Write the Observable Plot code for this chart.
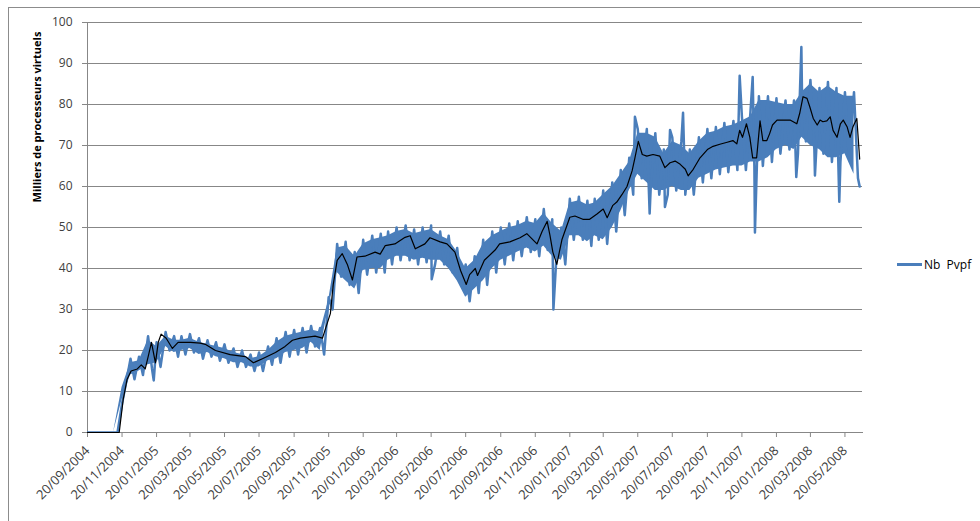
<!DOCTYPE html>
<html>
<head>
<meta charset="utf-8">
<script src="https://cdn.jsdelivr.net/npm/d3@7"></script>
<script src="https://cdn.jsdelivr.net/npm/@observablehq/plot@0.6"></script>
<style>
  body { margin: 0; background: #fff; }
  #wrap { position: relative; width: 980px; height: 521px; overflow: hidden; font-family: "Open Sans", sans-serif; background: #fff; }
  #frame { position: absolute; left: 8px; top: 7px; width: 1000px; height: 540px; border: 1px solid #8c8c8c; box-sizing: border-box; }
  #chart { position: absolute; left: 0; top: 0; }
  #ytitle { position: absolute; left: 36px; top: 117px; transform: translate(-50%, -50%) rotate(-90deg); font-weight: bold; font-size: 11px; white-space: nowrap; color: #000; }
  #legend { position: absolute; left: 897px; top: 256px; display: flex; align-items: center; font-size: 12px; color: #000; white-space: pre; }
  #legend .sw { width: 25px; height: 3px; background: #4a7ebb; margin-right: 2px; }
</style>
</head>
<body>
<div id="wrap">
  <div id="frame"></div>
  <div id="chart"></div>
  <div id="ytitle">Milliers de processeurs virtuels</div>
  <div id="legend"><span class="sw"></span><span>Nb  Pvpf</span></div>
</div>
<script>
// ---- Data (values in thousands) ----
// Blue series "Nb Pvpf": twice-monthly weekday highs and weekend lows
const sampleDates = [
  "2004-09-20","2004-10-05","2004-10-20","2004-11-05","2004-11-20","2004-12-05","2004-12-20",
  "2005-01-05","2005-01-20","2005-02-05","2005-02-20","2005-03-05","2005-03-20","2005-04-05","2005-04-20",
  "2005-05-05","2005-05-20","2005-06-05","2005-06-20","2005-07-05","2005-07-20","2005-08-05","2005-08-20",
  "2005-09-05","2005-09-20","2005-10-05","2005-10-20","2005-11-05","2005-11-20","2005-12-05","2005-12-20",
  "2006-01-05","2006-01-20","2006-02-05","2006-02-20","2006-03-05","2006-03-20","2006-04-05","2006-04-20",
  "2006-05-05","2006-05-20","2006-06-05","2006-06-20","2006-07-05","2006-07-20","2006-08-05","2006-08-20",
  "2006-09-05","2006-09-20","2006-10-05","2006-10-20","2006-11-05","2006-11-20","2006-12-05","2006-12-20",
  "2007-01-05","2007-01-20","2007-02-05","2007-02-20","2007-03-05","2007-03-20","2007-04-05","2007-04-20",
  "2007-05-05","2007-05-20","2007-06-05","2007-06-20","2007-07-05","2007-07-20","2007-08-05","2007-08-20",
  "2007-09-05","2007-09-20","2007-10-05","2007-10-20","2007-11-05","2007-11-20","2007-12-05","2007-12-20",
  "2008-01-05","2008-01-20","2008-02-05","2008-02-20","2008-03-05","2008-03-20","2008-04-05","2008-04-20",
  "2008-05-05","2008-05-20","2008-06-05"
];
const highs = [
  0,0,0,0,7,18,18.5,
  23.5,22,24.5,23.5,23.5,24,23,22.5,
  22,21.5,20.5,20,19,19.5,21,23,
  24.5,25,25.5,26,25.5,33,46,46.5,
  44,47,48,48.5,49,50,50.5,49.5,
  50,50.5,49,48,45,41,43,47,
  49,50,51,51.5,52.5,52,54.5,52,
  50,57,57.5,56.5,57,59,61,64,
  67,74,74,73,69,72,71,69,
  72,74,74.5,75.5,76,77,78,82,
  82,81.5,81,81,84,86,84,85.5,
  84,83,83
];
const lows = [
  0,0,0,0,12,13,14,
  15.5,16,20,18.5,19,19.5,18,18.5,
  17.5,17,16,16,15,15,16.5,17,
  18.5,19,19.5,21,19,30,38,36,
  34,38.5,39,39,41,42,42,41,
  41.5,41,41,39,36,32,34,36,
  39,41,42,43,44,43,44.5,42,
  41,47,47,45.5,47,46,49,53,
  58,62,60,58,58,59,58,58,
  61,62,63,63.5,64,64,65,65,
  66,68,69,68,71,69,68,66,
  66,67,62
];
// Isolated daily outliers of the blue series
const spikeDates  = ["2005-01-15","2006-05-21","2006-12-22","2007-05-15","2007-06-10","2007-07-07","2007-07-16","2007-08-08","2007-11-16","2007-12-09","2007-12-13","2008-02-24","2008-03-04","2008-03-28","2008-05-10","2008-06-15"];
const spikeValues = [12.7, 37.4, 30, 77, 53.4, 55, 73.8, 78, 87, 86.7, 48.8, 62.3, 94, 62.7, 56.3, 60];

// Black moving-average line
const avgDates = [
  "2004-09-20","2004-11-15","2004-11-22","2004-11-29","2004-12-06","2004-12-17","2004-12-24","2004-12-31",
  "2005-01-06","2005-01-11","2005-01-18","2005-01-23","2005-01-28","2005-02-06","2005-02-17","2005-02-27",
  "2005-03-21","2005-04-07","2005-04-16","2005-05-04","2005-05-30","2005-06-26","2005-07-10","2005-07-26",
  "2005-08-18","2005-09-04","2005-09-17","2005-10-01","2005-10-27","2005-11-09","2005-11-16","2005-11-23",
  "2005-11-28","2005-12-05","2005-12-14","2005-12-23","2006-01-01","2006-01-09","2006-01-23","2006-02-10",
  "2006-02-19","2006-02-28","2006-03-17","2006-04-04","2006-04-13","2006-04-22","2006-05-09","2006-05-18",
  "2006-06-05","2006-06-17","2006-07-01","2006-07-11","2006-07-21","2006-07-27","2006-08-06","2006-08-10",
  "2006-08-22","2006-09-10","2006-09-18","2006-10-06","2006-10-24","2006-11-05","2006-11-23","2006-12-02",
  "2006-12-11","2006-12-16","2006-12-21","2006-12-28","2007-01-06","2007-01-20","2007-01-29","2007-02-12",
  "2007-02-24","2007-03-09","2007-03-20","2007-03-27","2007-04-06","2007-04-13","2007-04-22","2007-05-01",
  "2007-05-10","2007-05-15","2007-05-21","2007-05-28","2007-06-05","2007-06-16","2007-06-28","2007-07-07",
  "2007-07-16","2007-07-25","2007-08-03","2007-08-12","2007-08-17","2007-08-26","2007-09-07","2007-09-20",
  "2007-09-30","2007-10-12","2007-10-25","2007-11-04","2007-11-11","2007-11-16","2007-11-21","2007-11-28",
  "2007-12-04","2007-12-09","2007-12-16","2007-12-22","2007-12-27","2008-01-03","2008-01-08","2008-01-13",
  "2008-01-21","2008-02-13","2008-02-25","2008-03-01","2008-03-07","2008-03-14","2008-03-19","2008-03-25",
  "2008-04-01","2008-04-06","2008-04-11","2008-04-18","2008-04-24","2008-04-29","2008-05-06","2008-05-12",
  "2008-05-17","2008-05-24","2008-05-29","2008-06-03","2008-06-10","2008-06-15"
];
const avgValues = [
  0,0,8,13,15,15.5,16.5,15.5,
  19,22,17,22,24,23,20.5,22,
  22,21.8,21.5,20,19,18.5,17,18,
  19.5,21,22.5,23,23.5,23,26,29,
  36,42,43.6,41,37.2,42.8,43,44,
  43.5,45.6,46,47.6,48,44.8,46,47.5,
  46.5,46,44,39.5,36.1,38.5,40,38.3,
  42,44.5,46,46.5,47.5,48.5,46,49,
  51.5,48,44,41,47,52.5,52.8,52,
  52,53.3,54.5,52.4,55.4,56.2,58,60,
  63.8,67,71,67.8,67.4,67.8,67.4,64.6,
  65.8,66.2,65.4,64.2,62.6,64.2,67,69,
  69.8,70.3,70.8,71.2,70.4,73.7,72,75.3,
  72,67,67,76,71.2,71.2,72.9,75,
  76.2,76.2,75.3,77.8,81.9,81.5,79.4,76.6,
  75,76.2,75.8,76,77,73.7,72,75.3,
  76.2,74.5,72,74.5,76.6,66.7
];

// Axis ticks
const xTickDates = [
  "2004-09-20","2004-11-20","2005-01-20","2005-03-20","2005-05-20","2005-07-20","2005-09-20","2005-11-20",
  "2006-01-20","2006-03-20","2006-05-20","2006-07-20","2006-09-20","2006-11-20","2007-01-20","2007-03-20",
  "2007-05-20","2007-07-20","2007-09-20","2007-11-20","2008-01-20","2008-03-20","2008-05-20"
];
const yTicks = [0,10,20,30,40,50,60,70,80,90,100];
const xStart = "2004-09-20", xEnd = "2008-06-20";

// ---- Build tables ----
const band = sampleDates.map((d, i) => ({date: new Date(d), hi: highs[i], lo: lows[i]}));
const blue = [];
band.forEach(r => {
  blue.push({date: r.date, v: r.hi});
  blue.push({date: d3.utcDay.offset(r.date, 7), v: r.lo});
});
spikeDates.forEach((d, i) => blue.push({date: new Date(d), v: spikeValues[i]}));
blue.sort((a, b) => a.date - b.date);
const avg = avgDates.map((d, i) => ({date: new Date(d), v: avgValues[i]}));

// the solid fill sits a little inside the high/low envelope so that the daily zigzag shows at the edges
const inset = r => Math.min(1, Math.abs(r.hi - r.lo) / 4);

const grey = "#878787";
const blueC = "#4a7ebb";
const chart = Plot.plot({
  width: 980, height: 521,
  marginLeft: 87, marginRight: 118, marginTop: 22, marginBottom: 89,
  style: {fontFamily: '"Open Sans", sans-serif', fontSize: "12px", color: "#404040", background: "transparent", overflow: "visible"},
  x: {type: "utc", domain: [new Date(xStart), new Date(xEnd)]},
  y: {domain: [0, 100]},
  marks: [
    Plot.gridY(yTicks, {stroke: grey, strokeOpacity: 1}),
    Plot.frame({anchor: "left", stroke: grey}),
    Plot.frame({anchor: "bottom", stroke: grey}),
    Plot.axisY(yTicks, {tickSize: 5, tickPadding: 10, stroke: grey, label: null, fill: "#404040"}),
    Plot.axisX(xTickDates.map(d => new Date(d)), {tickSize: 5, tickPadding: 11, tickRotate: -45, stroke: grey, label: null, fill: "#404040", fontSize: 13, tickFormat: d3.utcFormat("%d/%m/%Y")}),
    Plot.areaY(band, {x: "date", y1: r => Math.min(r.lo, r.hi) + inset(r), y2: r => Math.max(r.lo, r.hi) - inset(r), fill: blueC, clip: true}),
    Plot.line(blue, {x: "date", y: "v", stroke: blueC, strokeWidth: 2.5, strokeLinejoin: "round", clip: true}),
    Plot.line(avg, {x: "date", y: "v", stroke: "#000", strokeWidth: 1.2})
  ]
});
document.getElementById("chart").appendChild(chart);
</script>
</body>
</html>
